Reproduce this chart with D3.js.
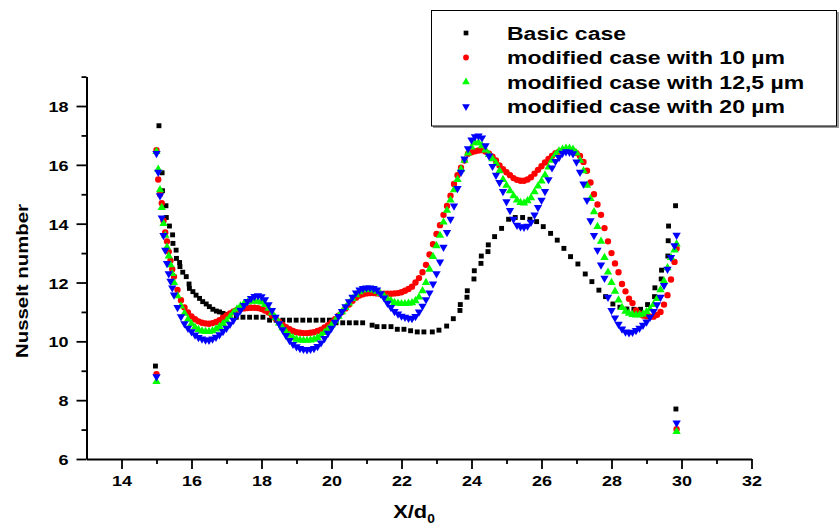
<!DOCTYPE html>
<html>
<head>
<meta charset="utf-8">
<script src="https://cdn.jsdelivr.net/npm/d3@7"></script>
<style>
  html, body { margin: 0; padding: 0; background: #fff; }
  svg { display: block; font-family: "Liberation Sans", Arial, sans-serif; font-weight: bold; }
</style>
</head>
<body>
<svg id="chart" width="839" height="526"></svg>
<script>
// ---- Basic case (black squares) ----
const basicX = [14.97, 15.07, 15.16, 15.17, 15.27, 15.28, 15.37, 15.46, 15.47, 15.56, 15.57, 15.66, 15.67, 15.75, 15.85,
  15.93, 15.94, 16.04, 16.13, 16.23, 16.32, 16.42, 16.51, 16.61, 16.71, 16.80, 16.90, 17.00, 17.09, 17.28,
  17.47, 17.66, 17.85, 18.04, 18.23, 18.42, 18.61, 18.80, 18.99, 19.18, 19.37, 19.56, 19.75, 19.94, 20.13,
  20.32, 20.51, 20.70, 20.89, 21.16, 21.30, 21.50, 21.70, 21.88, 22.07, 22.26, 22.45, 22.64, 22.88, 23.07,
  23.29, 23.48, 23.67, 23.68, 23.87, 23.88, 24.07, 24.08, 24.27, 24.28, 24.47, 24.48, 24.66, 24.86, 25.06,
  25.25, 25.46, 25.67, 25.86, 26.05, 26.26, 26.45, 26.64, 26.83, 27.04, 27.25, 27.44, 27.64, 27.83, 28.04,
  28.24, 28.44, 28.64, 28.83, 29.03, 29.23, 29.24, 29.42, 29.43, 29.61, 29.62, 29.63, 29.83, 29.84];
const basicNu = [9.16, 17.33, 15.73, 15.12, 14.61, 14.21, 13.92, 13.62, 13.33, 13.10, 12.82, 12.68, 12.54, 12.35, 12.20,
  11.95, 11.80, 11.69, 11.57, 11.46, 11.35, 11.27, 11.18, 11.09, 11.03, 11.00, 10.95, 10.91, 10.87, 10.82,
  10.82, 10.82, 10.82, 10.82, 10.72, 10.72, 10.72, 10.72, 10.72, 10.72, 10.72, 10.72, 10.72, 10.72, 10.63,
  10.63, 10.63, 10.63, 10.63, 10.55, 10.50, 10.50, 10.50, 10.41, 10.41, 10.36, 10.32, 10.32, 10.32, 10.38,
  10.52, 10.77, 11.05, 11.25, 11.50, 11.72, 12.12, 12.40, 12.65, 12.90, 13.05, 13.28, 13.56, 13.84, 14.15,
  14.21, 14.21, 14.15, 14.07, 13.90, 13.67, 13.44, 13.16, 12.88, 12.63, 12.29, 12.03, 11.74, 11.52, 11.27,
  11.16, 11.10, 11.09, 11.09, 11.25, 11.52, 11.82, 12.12, 12.42, 12.90, 13.42, 13.92, 14.61, 7.70];

// ---- Modified cases: shared X/d0 stations ----
const modX = [15.0, 15.0, 15.05, 15.1, 15.15, 15.2, 15.25, 15.3, 15.35, 15.4, 15.45,
  15.5, 15.6, 15.7, 15.8, 15.9,
  16.0, 16.1, 16.2, 16.3, 16.4, 16.5, 16.6, 16.7, 16.8, 16.9,
  17.0, 17.1, 17.2, 17.3, 17.4, 17.5, 17.6, 17.7, 17.8, 17.9,
  18.0, 18.1, 18.2, 18.3, 18.4, 18.5, 18.6, 18.7, 18.8, 18.9,
  19.0, 19.1, 19.2, 19.3, 19.4, 19.5, 19.6, 19.7, 19.8, 19.9,
  20.0, 20.1, 20.2, 20.3, 20.4, 20.5, 20.6, 20.7, 20.8, 20.9,
  21.0, 21.1, 21.2, 21.3, 21.4, 21.5, 21.6, 21.7, 21.8, 21.9,
  22.0, 22.1, 22.2, 22.3, 22.4, 22.5, 22.6, 22.7, 22.8, 22.9,
  23.0, 23.1, 23.2, 23.3, 23.4, 23.5, 23.6, 23.7, 23.8, 23.9,
  24.0, 24.1, 24.2, 24.3, 24.4, 24.5, 24.6, 24.7, 24.8, 24.9,
  25.0, 25.1, 25.2, 25.3, 25.4, 25.5, 25.6, 25.7, 25.8, 25.9,
  26.0, 26.1, 26.2, 26.3, 26.4, 26.5, 26.6, 26.7, 26.8, 26.9,
  27.0, 27.1, 27.2, 27.3, 27.4, 27.5, 27.6, 27.7, 27.8, 27.9,
  28.0, 28.1, 28.2, 28.3, 28.4, 28.5, 28.6, 28.7, 28.8, 28.9,
  29.0, 29.1, 29.2, 29.3, 29.4, 29.5, 29.6, 29.7, 29.8,
  29.86, 29.86];

// modified case with 10 µm (red circles)
const nu10 = [8.88, 16.50, 15.50, 15.00, 14.70, 14.10, 13.70, 13.40, 13.05, 12.75, 12.45,
  12.20, 11.75, 11.40, 11.15, 10.98,
  10.85, 10.75, 10.68, 10.63, 10.61, 10.60, 10.62, 10.66, 10.72, 10.80,
  10.88, 10.95, 11.02, 11.07, 11.10, 11.12, 11.13, 11.14, 11.14, 11.13,
  11.10, 11.05, 10.98, 10.88, 10.78, 10.67, 10.57, 10.48, 10.41, 10.35,
  10.31, 10.29, 10.28, 10.28, 10.29, 10.31, 10.35, 10.40, 10.47, 10.55,
  10.64, 10.75, 10.87, 11.00, 11.12, 11.25, 11.38, 11.48, 11.56, 11.60,
  11.63, 11.64, 11.64, 11.63, 11.62, 11.62, 11.62, 11.62, 11.63, 11.64,
  11.67, 11.72, 11.78, 11.86, 12.00, 12.15, 12.35, 12.60, 12.95, 13.30,
  13.65, 13.95, 14.30, 14.60, 14.95, 15.35, 15.65, 15.90, 16.15, 16.38,
  16.43, 16.46, 16.49, 16.50, 16.45, 16.38, 16.28, 16.15, 15.98, 15.85,
  15.75, 15.65, 15.55, 15.49, 15.46, 15.46, 15.50, 15.58, 15.70, 15.83,
  15.95, 16.08, 16.20, 16.30, 16.40, 16.45, 16.48, 16.50, 16.50, 16.48,
  16.40, 16.30, 16.10, 15.80, 15.40, 15.00, 14.65, 14.30, 13.85, 13.40,
  13.00, 12.65, 12.35, 11.95, 11.70, 11.45, 11.30, 11.05, 10.95, 10.88,
  10.85, 10.84, 10.84, 10.90, 11.00, 11.25, 11.57, 12.10, 12.70,
  13.16, 7.01];

// modified case with 12,5 µm (green up-triangles)
const nu125 = [8.63, 16.45, 15.85, 15.15, 14.55, 14.00, 13.60, 13.20, 12.90, 12.60, 12.30,
  12.00, 11.55, 11.20, 10.95, 10.75,
  10.60, 10.48, 10.40, 10.35, 10.33, 10.33, 10.36, 10.42, 10.50, 10.60,
  10.70, 10.83, 10.98, 11.10, 11.20, 11.28, 11.33, 11.36, 11.37, 11.36,
  11.33, 11.25, 11.12, 10.97, 10.80, 10.62, 10.46, 10.32, 10.20, 10.12,
  10.07, 10.04, 10.03, 10.03, 10.04, 10.07, 10.12, 10.20, 10.30, 10.42,
  10.55, 10.70, 10.85, 11.00, 11.15, 11.30, 11.45, 11.58, 11.68, 11.74,
  11.76, 11.76, 11.74, 11.70, 11.62, 11.55, 11.45, 11.38, 11.32, 11.29,
  11.28, 11.28, 11.29, 11.31, 11.38, 11.50, 11.72, 12.00, 12.45, 12.88,
  13.25, 13.60, 14.05, 14.45, 14.80, 15.15, 15.50, 15.85, 16.15, 16.40,
  16.60, 16.75, 16.75, 16.65, 16.50, 16.35, 16.20, 16.05, 15.80, 15.50,
  15.30, 15.12, 14.95, 14.80, 14.72, 14.70, 14.78, 14.88, 15.08, 15.28,
  15.45, 15.65, 15.92, 16.15, 16.35, 16.47, 16.53, 16.56, 16.56, 16.53,
  16.40, 16.15, 15.80, 15.30, 14.85, 14.40, 13.90, 13.40, 12.85, 12.35,
  12.00, 11.70, 11.40, 11.15, 11.02, 10.95, 10.91, 10.89, 10.90, 10.93,
  11.00, 11.10, 11.25, 11.45, 11.75, 12.05, 12.50, 12.85, 13.10,
  13.31, 6.93];

// modified case with 20 µm (blue down-triangles)
const nu20 = [8.80, 16.39, 15.75, 14.95, 14.20, 13.60, 13.10, 12.65, 12.30, 12.05, 11.82,
  11.58, 11.15, 10.84, 10.60, 10.45,
  10.33, 10.22, 10.13, 10.08, 10.05, 10.04, 10.08, 10.14, 10.23, 10.34,
  10.45, 10.58, 10.72, 10.90, 11.06, 11.22, 11.36, 11.46, 11.53, 11.55,
  11.52, 11.42, 11.25, 11.05, 10.82, 10.60, 10.40, 10.20, 10.03, 9.90,
  9.82, 9.76, 9.73, 9.72, 9.73, 9.76, 9.83, 9.95, 10.10, 10.28,
  10.45, 10.65, 10.85, 11.02, 11.18, 11.35, 11.50, 11.65, 11.75, 11.80,
  11.82, 11.82, 11.80, 11.75, 11.62, 11.48, 11.30, 11.15, 11.02, 10.93,
  10.86, 10.82, 10.79, 10.78, 10.85, 11.00, 11.20, 11.42, 11.65, 11.95,
  12.30, 12.70, 13.20, 13.70, 14.15, 14.60, 15.20, 15.75, 16.20, 16.55,
  16.85, 16.96, 16.98, 16.92, 16.65, 16.30, 15.95, 15.65, 15.40, 15.10,
  14.75, 14.45, 14.15, 13.95, 13.90, 13.88, 13.92, 14.05, 14.30, 14.55,
  14.80, 15.10, 15.50, 15.90, 16.12, 16.25, 16.40, 16.45, 16.43, 16.38,
  16.10, 15.75, 15.35, 14.80, 14.10, 13.60, 13.10, 12.60, 12.15, 11.50,
  11.05, 10.80, 10.58, 10.42, 10.32, 10.29, 10.31, 10.37, 10.45, 10.55,
  10.66, 10.82, 11.02, 11.25, 11.50, 11.90, 12.45, 12.85, 13.25,
  13.61, 7.23];

const seriesNames = ["Basic case", "modified case with 10 µm", "modified case with 12,5 µm", "modified case with 20 µm"];
const xMajor = [14, 16, 18, 20, 22, 24, 26, 28, 30, 32];
const xMinor = [15, 17, 19, 21, 23, 25, 27, 29, 31];
const yMajor = [6, 8, 10, 12, 14, 16, 18];
const yMinor = [7, 9, 11, 13, 15, 17, 19];

const svg = d3.select("#chart");
const x = d3.scaleLinear().domain([13, 32]).range([86.5, 751.5]);
const y = d3.scaleLinear().domain([6, 19]).range([459, 76.6]);

// marker generators
const symSquare = d3.symbol().type(d3.symbolSquare).size(24)();
const symCircle = d3.symbol().type(d3.symbolCircle).size(32)();
const symTri = d3.symbol().type(d3.symbolTriangle).size(30)();

const series = [
  { name: seriesNames[0], xs: basicX, ys: basicNu, path: symSquare, color: "#000000", rot: 0 },
  { name: seriesNames[1], xs: modX, ys: nu10, path: symCircle, color: "#ff0000", rot: 0 },
  { name: seriesNames[2], xs: modX, ys: nu125, path: symTri, color: "#00ff00", rot: 0 },
  { name: seriesNames[3], xs: modX, ys: nu20, path: symTri, color: "#0000ff", rot: 180 }
];

// ---- axes ----
const gx = svg.append("g").attr("transform", `translate(0,${y(6)})`);
gx.call(d3.axisBottom(x).tickValues(xMajor).tickSize(10).tickSizeOuter(0).tickFormat(d3.format("d")));
const gxm = svg.append("g").attr("transform", `translate(0,${y(6)})`);
gxm.call(d3.axisBottom(x).tickValues(xMinor).tickSize(5).tickSizeOuter(0).tickFormat(""));
gxm.select(".domain").remove();

const gy = svg.append("g").attr("transform", `translate(${x(13)},0)`);
gy.call(d3.axisLeft(y).tickValues(yMajor).tickSize(10).tickSizeOuter(0).tickFormat(d3.format("d")));
const gym = svg.append("g").attr("transform", `translate(${x(13)},0)`);
gym.call(d3.axisLeft(y).tickValues(yMinor).tickSize(5).tickSizeOuter(0).tickFormat(""));
gym.select(".domain").remove();

svg.selectAll(".domain").attr("stroke", "#000").attr("stroke-width", 2);
svg.selectAll(".tick line").attr("stroke", "#000").attr("stroke-width", 1.8);

gx.selectAll(".tick text")
  .attr("font-family", "Liberation Sans, Arial, sans-serif")
  .attr("font-weight", "bold").attr("font-size", 15).attr("fill", "#000")
  .attr("y", 0).attr("dy", 0)
  .attr("transform", "translate(0,27) scale(1.2,1)");
gy.selectAll(".tick text")
  .attr("font-family", "Liberation Sans, Arial, sans-serif")
  .attr("font-weight", "bold").attr("font-size", 15).attr("fill", "#000")
  .attr("x", 0).attr("dy", 0)
  .attr("transform", "translate(-18,5.5) scale(1.2,1)");

// axis titles
svg.append("text")
  .attr("transform", "translate(28,281) rotate(-90) scale(1.2,1)")
  .attr("text-anchor", "middle").attr("font-size", 17).attr("fill", "#000")
  .text("Nusselt number");

const xt = svg.append("text")
  .attr("transform", "translate(414,518) scale(1.15,1)")
  .attr("text-anchor", "middle").attr("font-size", 19).attr("fill", "#000");
xt.append("tspan").text("X/d");
xt.append("tspan").attr("font-size", 12).attr("dy", 5).text("0");

// ---- data markers ----
series.forEach(s => {
  svg.append("g").selectAll("path")
    .data(s.xs.map((xv, i) => [xv, s.ys[i]]))
    .join("path")
    .attr("d", s.path)
    .attr("fill", s.color)
    .attr("transform", d => `translate(${x(d[0])},${y(d[1])}) rotate(${s.rot})`);
});

// ---- legend ----
const lg = svg.append("g");
lg.append("rect").attr("x", 433).attr("y", 12).attr("width", 406).attr("height", 116).attr("fill", "#9a9a9a");
lg.append("rect").attr("x", 431.5).attr("y", 10.5).attr("width", 405).attr("height", 115.5)
  .attr("fill", "#fff").attr("stroke", "#000").attr("stroke-width", 1);
const rowY = [33, 57.5, 82, 106.5];
const legendSym = [
  d3.symbol().type(d3.symbolSquare).size(22)(),
  d3.symbol().type(d3.symbolCircle).size(26)(),
  d3.symbol().type(d3.symbolTriangle).size(26)(),
  d3.symbol().type(d3.symbolTriangle).size(26)()
];
series.forEach((s, i) => {
  lg.append("path").attr("d", legendSym[i]).attr("fill", s.color)
    .attr("transform", `translate(466,${rowY[i]}) rotate(${s.rot})`);
  lg.append("text")
    .attr("transform", `translate(507,${rowY[i] + 6.5}) scale(1.28,1)`)
    .attr("font-size", 18).attr("fill", "#000")
    .text(s.name);
});
</script>
</body>
</html>
